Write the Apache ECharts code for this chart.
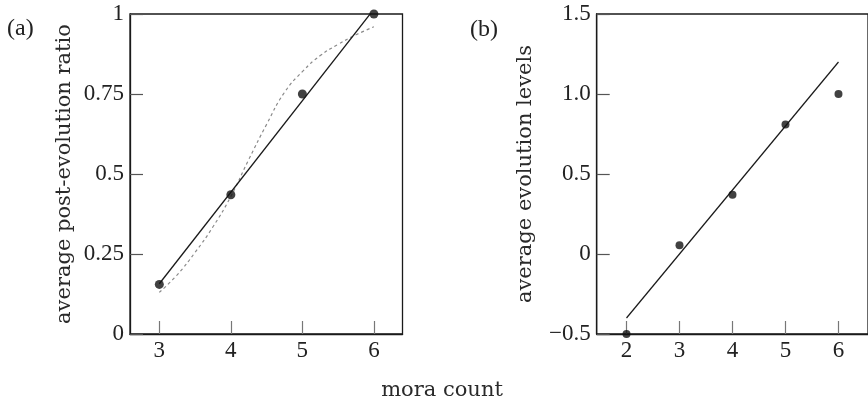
<!DOCTYPE html>
<html>
<head>
<meta charset="utf-8">
<script src="https://cdn.jsdelivr.net/npm/echarts@6/dist/echarts.min.js"></script>
<style>
  html, body { margin: 0; background: #fff; }
  #chart { width: 868px; height: 405px; }
</style>
</head>
<body>
<div id="chart"></div>
<script>
// panel (a): average post-evolution ratio by mora count
const moraA = [3, 4, 5, 6]
const ratioMean = [0.155, 0.435, 0.75, 1.0]
const fitAX = [3, 6]
const fitAY = [0.157, 1.015]
// dashed smooth fit in panel (a)
const curveX = [3, 3.25, 3.5, 3.75, 4, 4.25, 4.5, 4.75, 5, 5.25, 5.5, 5.75, 6]
const curveY = [0.13, 0.185, 0.255, 0.335, 0.43, 0.545, 0.655, 0.755, 0.82, 0.87, 0.905, 0.935, 0.96]

// panel (b): average evolution levels by mora count
const moraB = [2, 3, 4, 5, 6]
const levelMean = [-0.5, 0.055, 0.37, 0.81, 1.0]
const fitBX = [2, 6]
const fitBY = [-0.4, 1.2]

// tick labels
const moraTicksA = [3, 4, 5, 6]
const moraTicksB = [2, 3, 4, 5, 6]
const ratioTicks = [0, 0.25, 0.5, 0.75, 1]
const ratioTickLabels = ['0', '0.25', '0.5', '0.75', '1']
const levelTicks = [-0.5, 0, 0.5, 1, 1.5]
const levelTickLabels = ['−0.5', '0', '0.5', '1.0', '1.5']

const FONT = 'Liberation Serif'
// axis names are set a bit wider, like the tracked serif in the original
const NAME_FONT = 'DejaVu Serif'
const zip = (xs, ys) => xs.map((x, i) => [x, ys[i]])
const labelOf = (vals, labels) => v => {
  const i = vals.findIndex(t => Math.abs(t - v) < 1e-9)
  return i < 0 ? '' : labels[i]
}

const chart = echarts.init(document.getElementById('chart'), null, { renderer: 'canvas' })

const xAxisBase = {
  type: 'value',
  axisLine: { show: true, onZero: false, lineStyle: { color: '#1a1a1a', width: 1.3 } },
  axisTick: { show: true, inside: true, length: 13, lineStyle: { color: '#777', width: 1.2 } },
  axisLabel: { color: '#222', fontFamily: FONT, fontSize: 23, margin: 5 },
  splitLine: { show: false }
}
const yAxisBase = {
  type: 'value',
  axisLine: { show: true, onZero: false, lineStyle: { color: '#1a1a1a', width: 1.3 } },
  axisTick: { show: true, inside: true, length: 13, lineStyle: { color: '#555', width: 1.2 } },
  axisLabel: { color: '#222', fontFamily: FONT, fontSize: 23, margin: 6 },
  splitLine: { show: false },
  nameLocation: 'middle',
  nameRotate: 90,
  nameTextStyle: { color: '#2a2a2a', fontFamily: NAME_FONT, fontSize: 21 }
}

chart.setOption({
  backgroundColor: '#fff',
  animation: false,
  grid: [
    { left: 130, top: 14, width: 272.5, height: 320, show: true, borderColor: '#1a1a1a', borderWidth: 1.3 },
    { left: 596.7, top: 14, width: 273, height: 320, show: true, borderColor: '#1a1a1a', borderWidth: 1.3 }
  ],
  xAxis: [
    {
      ...xAxisBase, gridIndex: 0, min: 2.59, max: 6.4,
      axisTick: { ...xAxisBase.axisTick, customValues: moraTicksA },
      axisLabel: { ...xAxisBase.axisLabel, customValues: moraTicksA }
    },
    {
      ...xAxisBase, gridIndex: 1, min: 1.4375, max: 6.557,
      axisTick: { ...xAxisBase.axisTick, customValues: moraTicksB },
      axisLabel: { ...xAxisBase.axisLabel, customValues: moraTicksB }
    }
  ],
  yAxis: [
    {
      ...yAxisBase, gridIndex: 0, min: 0, max: 1,
      name: 'average post-evolution ratio', nameGap: 55,
      axisTick: { ...yAxisBase.axisTick, customValues: ratioTicks },
      axisLabel: { ...yAxisBase.axisLabel, customValues: ratioTicks, formatter: labelOf(ratioTicks, ratioTickLabels) }
    },
    {
      ...yAxisBase, gridIndex: 1, min: -0.5, max: 1.5,
      name: 'average evolution levels', nameGap: 61,
      axisTick: { ...yAxisBase.axisTick, customValues: levelTicks },
      axisLabel: { ...yAxisBase.axisLabel, customValues: levelTicks, formatter: labelOf(levelTicks, levelTickLabels) }
    }
  ],
  graphic: [
    { type: 'text', left: 7, top: 17, style: { text: '(a)', font: '24px "Liberation Serif"', fill: '#222' } },
    { type: 'text', left: 470, top: 18, style: { text: '(b)', font: '24px "Liberation Serif"', fill: '#222' } },
    { type: 'text', x: 442, y: 380, style: { text: 'mora count', font: '21px "DejaVu Serif"', fill: '#2a2a2a', textAlign: 'center' } }
  ],
  series: [
    {
      type: 'line', xAxisIndex: 0, yAxisIndex: 0,
      data: zip(curveX, curveY), smooth: true, showSymbol: false,
      lineStyle: { color: '#8a8a8a', width: 1.2, type: [3, 3] }, z: 2
    },
    {
      type: 'line', xAxisIndex: 0, yAxisIndex: 0,
      data: zip(fitAX, fitAY), showSymbol: false,
      lineStyle: { color: '#1a1a1a', width: 1.3 }, z: 3
    },
    {
      type: 'scatter', xAxisIndex: 0, yAxisIndex: 0,
      data: zip(moraA, ratioMean), symbolSize: 9, clip: false,
      itemStyle: { color: '#111' }, z: 4
    },
    {
      type: 'line', xAxisIndex: 1, yAxisIndex: 1,
      data: zip(fitBX, fitBY), showSymbol: false,
      lineStyle: { color: '#1a1a1a', width: 1.2 }, z: 3
    },
    {
      type: 'scatter', xAxisIndex: 1, yAxisIndex: 1,
      data: zip(moraB, levelMean), symbolSize: 8, clip: false,
      itemStyle: { color: '#111' }, z: 4
    }
  ]
})
</script>
</body>
</html>
